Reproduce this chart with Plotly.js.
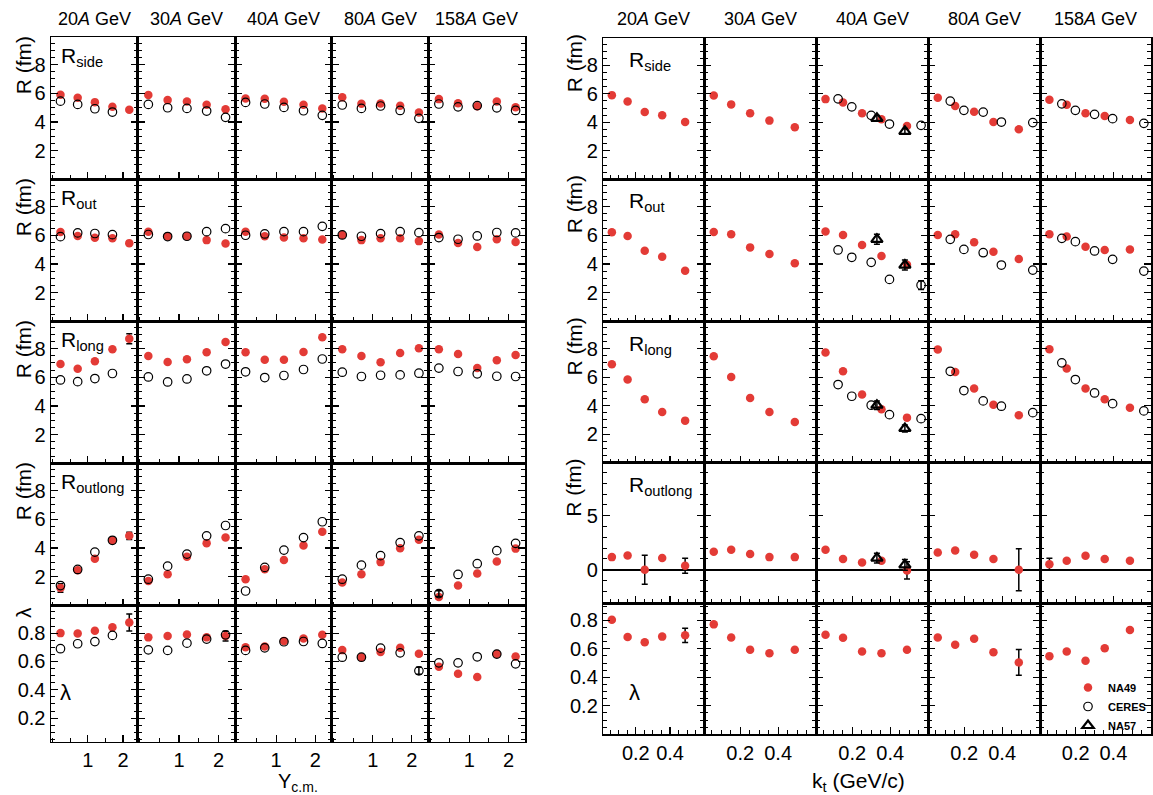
<!DOCTYPE html>
<html><head><meta charset="utf-8">
<script src="https://cdn.plot.ly/plotly-3.0.1.min.js"></script>
<style>html,body{margin:0;padding:0;background:#fff}#chart{width:1153px;height:795px}</style>
</head><body><div id="chart"></div>
<script>
// ---------------- data ----------------
const energies = ['20', '30', '40', '80', '158'];
const rapidity = [0.22, 0.71, 1.2, 1.7, 2.18];
const ktNA49 = [0.06, 0.152, 0.252, 0.354, 0.488];
const ktCERES = [0.126, 0.198, 0.3, 0.396, 0.562];
const ktNA57 = [0.33, 0.477];

// left: versus rapidity (one inner array per energy)
const yRsideNA49 = [[5.89,5.69,5.38,5.06,4.85],[5.87,5.52,5.43,5.2,4.88],[5.64,5.62,5.41,5.2,4.94],[5.72,5.27,5.28,5.13,4.66],[5.59,5.3,5.09,5.43,5.02]];
const yRsideOpen = [[5.45,5.22,4.92,4.69,null],[5.22,4.99,4.94,4.76,4.32],[5.36,5.25,5.01,4.78,4.46],[5.18,4.94,5.11,4.8,4.25],[5.25,5.05,5.14,4.98,4.8]];
const yRoutNA49 = [[6.22,5.95,5.82,5.79,5.45],[6.25,5.93,5.93,5.66,5.43],[6.25,5.93,5.84,5.79,5.7],[6.02,5.66,5.79,5.79,5.59],[6.05,5.46,5.18,5.72,5.53]];
const yRoutOpen = [[5.9,6.16,6.12,6.04,null],[6.05,5.91,5.93,6.25,6.46],[6.0,6.09,6.25,6.25,6.62],[6.02,5.93,6.11,6.25,6.18],[5.84,5.72,5.95,6.19,6.16]];
const yRlongNA49 = [[6.92,6.59,7.11,7.95,8.68],[7.48,7.06,7.25,7.74,8.45],[7.74,7.22,7.22,7.76,8.78],[7.95,7.48,7.04,7.69,8.02],[7.95,7.62,6.64,7.18,7.55]];
const yRlongOpen = [[5.81,5.69,5.91,6.26,null],[6.02,5.67,5.88,6.45,6.92],[6.38,5.98,6.12,6.54,7.27],[6.35,6.05,6.14,6.16,6.28],[6.64,6.4,6.24,6.07,6.05]];
const yRolNA49 = [[1.22,2.46,3.26,4.54,4.85],[1.71,2.18,3.4,4.33,4.73],[1.83,2.53,3.16,4.17,5.13],[1.6,2.18,3.02,3.98,4.57],[0.59,1.39,2.23,3.07,3.96]];
const yRolOpen = [[1.39,2.51,3.72,4.54,null],[1.83,2.74,3.58,4.85,5.57],[1.01,2.65,3.86,4.73,5.83],[1.83,2.81,3.47,4.38,4.85],[0.83,2.16,2.91,3.82,4.33]];
const yLamNA49 = [[0.8,0.798,0.816,0.842,0.875],[0.77,0.779,0.79,0.77,0.779],[0.7,0.706,0.744,0.762,0.788],[0.68,0.63,0.666,0.696,0.654],[0.562,0.513,0.49,0.652,0.635]];
const yLamOpen = [[0.69,0.725,0.74,0.784,null],[0.682,0.678,0.729,0.758,0.788],[0.678,0.696,0.739,0.741,0.727],[0.63,0.63,0.694,0.661,0.534],[0.59,0.59,0.633,0.652,0.583]];
const eRlongNA49L = [[0,0,0,0,0.35],[0,0,0,0,0],[0,0,0,0,0],[0,0,0,0,0],[0,0,0,0,0]];
const eRolNA49L = [[0.3,0.12,0,0.1,0.25],[0,0,0,0,0],[0,0,0,0,0],[0,0,0,0,0],[0.15,0,0,0,0]];
const eRolOpenL = [[0,0,0,0,0],[0,0,0,0,0],[0,0,0,0,0],[0,0,0,0,0],[0.2,0,0,0,0]];
const eLamNA49L = [[0,0,0,0,0.06],[0,0,0,0,0.035],[0,0,0,0,0],[0,0,0,0,0],[0,0,0,0,0]];
const eLamOpenL = [[0,0,0,0,0],[0,0,0,0,0],[0,0,0,0,0],[0,0,0,0,0.025],[0,0,0,0,0]];

// right: versus kt
const kRsideNA49 = [[5.91,5.47,4.72,4.49,4.02],[5.88,5.26,4.63,4.12,3.65],[5.63,5.4,4.63,4.21,3.74],[5.72,5.14,4.74,4.02,3.51],[5.58,5.23,4.63,4.44,4.16]];
const kRsideCERES = [null,null,[5.65,5.09,4.49,3.88,3.79],[5.49,4.84,4.72,4.02,3.98],[5.3,4.84,4.56,4.26,3.93]];
const kRsideNA57 = [4.28, 3.37];
const kRoutNA49 = [[6.21,5.95,4.93,4.51,3.53],[6.23,6.07,5.16,4.7,4.05],[6.26,6.02,5.33,4.56,3.95],[6.02,6.07,5.51,4.86,4.35],[6.07,5.91,5.21,4.98,5.02]];
const kRoutCERES = [null,null,[4.98,4.47,4.12,2.93,2.53],[5.72,5.02,4.79,3.93,3.58],[5.79,5.56,4.91,4.33,3.51]];
const kRoutNA57 = [5.72, 3.93];
const kRlongNA49 = [[6.9,5.83,4.45,3.56,2.95],[7.46,6.01,4.54,3.56,2.86],[7.72,6.41,4.78,3.75,3.16],[7.93,6.36,5.2,4.07,3.33],[7.95,6.6,5.2,4.45,3.86]];
const kRlongCERES = [null,null,[5.48,4.66,4.03,3.37,3.09],[6.41,5.06,4.33,3.96,3.51],[7.0,5.83,4.89,4.14,3.63]];
const kRlongNA57 = [4.03, 2.4];
const kRolNA49 = [[1.17,1.33,0.0,1.08,0.37],[1.67,1.85,1.45,1.17,1.17],[1.85,0.99,0.68,0.83,-0.06],[1.6,1.79,1.39,0.99,0.0],[0.52,0.83,1.3,0.99,0.83]];
const kRolNA57 = [1.08, 0.46];
const kLamNA49 = [[0.805,0.684,0.646,0.686,0.695],[0.772,0.68,0.594,0.57,0.594],[0.699,0.678,0.582,0.57,0.594],[0.68,0.629,0.671,0.577,0.505],[0.549,0.581,0.517,0.604,0.732]];
const eRsideNA57 = [0.2, 0.2];
const eRoutNA57 = [0.35, 0.35];
const eRlongNA57 = [0.3, 0.25];
const eRolNA57 = [0.45, 0.5];
const eRoutCERES = [null,null,[0,0,0,0,0.3],[0,0,0,0,0],[0,0,0,0,0]];
const eRolNA49R = [[0,0,1.35,0,0.7],[0,0,0,0,0],[0,0,0,0,0.8],[0,0,0,0,1.95],[0.55,0,0,0,0]];
const eLamNA49R = [[0,0,0,0,0.05],[0,0,0,0,0],[0,0,0,0,0],[0,0,0,0,0.09],[0,0,0,0,0]];

// ---------------- layout geometry (pixels) ----------------
const W = 1153, H = 795;
const FONT = 'Liberation Sans, Arial, Helvetica, sans-serif';
const RED = '#e33b36';
const LX = [51, 137.7, 235, 331.7, 428.3, 525];
const LY = [37.3, 179.3, 321.3, 463.3, 605.5, 741.5];
const RX = [603.3, 704.3, 816, 928.3, 1040, 1151];
const RY = [38.3, 179.3, 321.5, 462.7, 603.3, 734.3];

const traces = [];
const layout = {
  width: W, height: H, margin: {l: 0, r: 0, t: 0, b: 0},
  paper_bgcolor: '#fff', plot_bgcolor: '#fff',
  font: {family: FONT, color: '#000'},
  showlegend: true,
  legend: {x: 1068 / W, y: 1 - 673 / H, xanchor: 'left', yanchor: 'top', bgcolor: 'rgba(0,0,0,0)',
           borderwidth: 0, itemwidth: 30, tracegroupgap: 0,
           font: {family: FONT, size: 11, color: '#000'}},
  annotations: []
};

function ann(text, x, y, opts) {
  layout.annotations.push(Object.assign({text: text, x: x / W, y: 1 - y / H, xref: 'paper', yref: 'paper',
    xanchor: 'center', yanchor: 'middle',
    showarrow: false, font: {family: FONT, size: 20, color: '#000'}}, opts || {}));
}

let axN = 0;
function cell(xpx, ypx, xr, yr, xtv, xminor, ytv, yminor, showX, showY, zero) {
  axN++;
  const sfx = axN === 1 ? '' : String(axN);
  const common = {showline: true, linecolor: '#000', linewidth: 1.5, ticks: 'inside', ticklen: 7,
    tickwidth: 1.2, tickcolor: '#000', showgrid: false, fixedrange: true,
    tickfont: {family: FONT, size: 20, color: '#000'}};
  layout['xaxis' + sfx] = Object.assign({}, common, {
    domain: [xpx[0] / W, xpx[1] / W], range: xr, anchor: 'y' + sfx, mirror: true,
    tickmode: 'array', tickvals: xtv, showticklabels: showX, zeroline: false,
    minor: {ticks: 'inside', ticklen: 4, tickwidth: 1, tickcolor: '#000', tickmode: 'linear', tick0: 0, dtick: xminor, showgrid: false}
  });
  layout['yaxis' + sfx] = Object.assign({}, common, {
    domain: [1 - ypx[1] / H, 1 - ypx[0] / H], range: yr, anchor: 'x' + sfx, mirror: 'allticks',
    tickmode: 'array', tickvals: ytv, showticklabels: showY,
    zeroline: !!zero, zerolinecolor: '#000', zerolinewidth: 1.5,
    minor: {ticks: 'inside', ticklen: 4, tickwidth: 1, tickcolor: '#000', tickmode: 'linear', tick0: 0, dtick: yminor, showgrid: false}
  });
  return {xaxis: 'x' + sfx, yaxis: 'y' + sfx};
}

function errObj(arr) {
  if (!arr) return undefined;
  return {type: 'data', array: arr.map(v => v ? v : NaN), visible: true, color: '#000', thickness: 1.5, width: 3};
}
let legNA49 = false, legCERES = false, legNA57 = false;
function addNA49(ax, xs, ys, errs) {
  traces.push(Object.assign({type: 'scatter', mode: 'markers', x: xs, y: ys, cliponaxis: false,
    name: '<b>NA49</b>', showlegend: !legNA49, legendgroup: 'na49',
    marker: {symbol: 'circle', size: 8.5, color: RED, line: {width: 0}},
    error_y: errObj(errs), hoverinfo: 'skip'}, ax));
  legNA49 = true;
}
function addOpen(ax, xs, ys, errs, inLegend) {
  traces.push(Object.assign({type: 'scatter', mode: 'markers', x: xs, y: ys, cliponaxis: false,
    name: '<b>CERES</b>', showlegend: !!inLegend && !legCERES, legendgroup: 'ceres',
    marker: {symbol: 'circle-open', size: 8.5, color: '#000', line: {width: 1.2}},
    error_y: errObj(errs), hoverinfo: 'skip'}, ax));
  if (inLegend) legCERES = true;
}
function addNA57(ax, xs, ys, errs) {
  traces.push(Object.assign({type: 'scatter', mode: 'markers', x: xs, y: ys, cliponaxis: false,
    name: '<b>NA57</b>', showlegend: !legNA57, legendgroup: 'na57',
    marker: {symbol: 'triangle-up-open', size: 10, color: '#000', line: {width: 2.2}},
    error_y: errObj(errs), hoverinfo: 'skip'}, ax));
  legNA57 = true;
}

const RT = [2, 4, 6, 8], LT = [0.2, 0.4, 0.6, 0.8];

// ---------------- left block: versus rapidity ----------------
const leftRows = [
  {n: yRsideNA49, o: yRsideOpen, en: null, eo: null, lab: 'R<sub>side</sub>', yr: [0, 9.9], tv: RT, mn: 0.5},
  {n: yRoutNA49, o: yRoutOpen, en: null, eo: null, lab: 'R<sub>out</sub>', yr: [0, 9.9], tv: RT, mn: 0.5},
  {n: yRlongNA49, o: yRlongOpen, en: eRlongNA49L, eo: null, lab: 'R<sub>long</sub>', yr: [0, 9.9], tv: RT, mn: 0.5},
  {n: yRolNA49, o: yRolOpen, en: eRolNA49L, eo: eRolOpenL, lab: 'R<sub>outlong</sub>', yr: [0, 9.9], tv: RT, mn: 0.5},
  {n: yLamNA49, o: yLamOpen, en: eLamNA49L, eo: eLamOpenL, lab: null, yr: [0.035, 0.995], tv: LT, mn: 0.05}
];
leftRows.forEach((row, r) => {
  for (let c = 0; c < 5; c++) {
    const ax = cell([LX[c], LX[c + 1]], [LY[r], LY[r + 1]], [-0.05, 2.42], row.yr, [1, 2], 0.5,
      row.tv, row.mn, r === 4, c === 0, false);
    addNA49(ax, rapidity, row.n[c], row.en ? row.en[c] : null);
    addOpen(ax, rapidity, row.o[c], row.eo ? row.eo[c] : null, false);
  }
  if (row.lab) {
    ann(row.lab, 59, LY[r] + 5, {xanchor: 'left', yanchor: 'top', font: {family: FONT, size: 21, color: '#000'}});
    ann('R (fm)', 23, LY[r] + 28, {textangle: -90, font: {family: FONT, size: 21, color: '#000'}});
  }
});
ann('λ', 23, 613, {textangle: -90, font: {family: FONT, size: 21, color: '#000'}});
ann('λ', 65, 692, {font: {family: FONT, size: 22, color: '#000'}});
ann('Y<sub>c.m.</sub>', 298, 782, {font: {family: FONT, size: 20, color: '#000'}});
energies.forEach((e, c) => ann(e + '<i>A</i> GeV', (LX[c] + LX[c + 1]) / 2, 19, {font: {family: FONT, size: 18, color: '#000'}}));

// ---------------- right block: versus kt ----------------
const rightRows = [
  {n: kRsideNA49, o: kRsideCERES, t: kRsideNA57, en: null, eo: null, et: eRsideNA57, lab: 'R<sub>side</sub>', yr: [0, 9.9], tv: RT, mn: 0.5},
  {n: kRoutNA49, o: kRoutCERES, t: kRoutNA57, en: null, eo: eRoutCERES, et: eRoutNA57, lab: 'R<sub>out</sub>', yr: [0, 9.9], tv: RT, mn: 0.5},
  {n: kRlongNA49, o: kRlongCERES, t: kRlongNA57, en: null, eo: null, et: eRlongNA57, lab: 'R<sub>long</sub>', yr: [0, 9.9], tv: RT, mn: 0.5},
  {n: kRolNA49, o: null, t: kRolNA57, en: eRolNA49R, eo: null, et: eRolNA57, lab: 'R<sub>outlong</sub>', yr: [-3.1, 9.9], tv: [0, 5], mn: 1, zero: true},
  {n: kLamNA49, o: null, t: null, en: eLamNA49R, eo: null, et: null, lab: null, yr: [0, 0.92], tv: LT, mn: 0.05}
];
rightRows.forEach((row, r) => {
  for (let c = 0; c < 5; c++) {
    const ax = cell([RX[c], RX[c + 1]], [RY[r], RY[r + 1]], [0.01, 0.6], row.yr, [0.2, 0.4], 0.05,
      row.tv, row.mn, r === 4, c === 0, row.zero);
    addNA49(ax, ktNA49, row.n[c], row.en ? row.en[c] : null);
    if (row.o && row.o[c]) addOpen(ax, ktCERES, row.o[c], row.eo && row.eo[c] ? row.eo[c] : null, true);
    if (row.t && c === 2) addNA57(ax, ktNA57, row.t, row.et);
  }
  if (row.lab) {
    ann(row.lab, 627, RY[r] + 8, {xanchor: 'left', yanchor: 'top', font: {family: FONT, size: 21, color: '#000'}});
    ann('R (fm)', 574, RY[r] + 25, {textangle: -90, font: {family: FONT, size: 21, color: '#000'}});
  }
});
ann('λ', 634, 692, {font: {family: FONT, size: 22, color: '#000'}});
ann('k<sub>t</sub> (GeV/c)', 858, 782, {font: {family: FONT, size: 21, color: '#000'}});
energies.forEach((e, c) => ann(e + '<i>A</i> GeV', (RX[c] + RX[c + 1]) / 2, 19, {font: {family: FONT, size: 18, color: '#000'}}));

Plotly.newPlot('chart', traces, layout, {staticPlot: true, displayModeBar: false});
</script>
</body></html>
